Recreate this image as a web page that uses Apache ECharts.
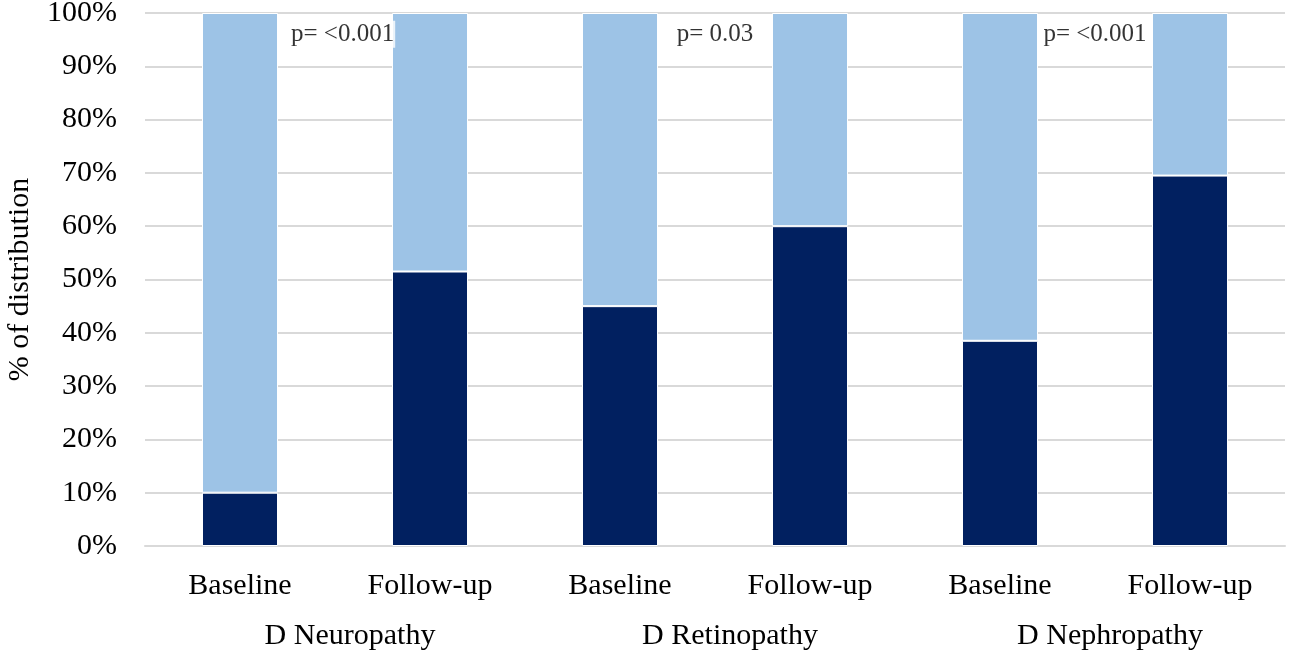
<!DOCTYPE html>
<html>
<head>
<meta charset="utf-8">
<script src="https://cdn.jsdelivr.net/npm/echarts@6/dist/echarts.min.js"></script>
<style>html,body{margin:0;padding:0;background:#fff}#c{width:1299px;height:653px}</style>
</head>
<body>
<div id="c"></div>
<script>
var categories = ['Baseline', 'Follow-up', 'Baseline', 'Follow-up', 'Baseline', 'Follow-up'];
var groups = ['D Neuropathy', 'D Retinopathy', 'D Nephropathy'];
var presentValues = [10, 51.5, 45, 60, 38.5, 69.5];
var absentValues = [90, 48.5, 55, 40, 61.5, 30.5];
var pLabels = ['p= <0.001', 'p= 0.03', 'p= <0.001'];
var pPositions = [0.54, 2.5, 4.5];
var pLevel = 96;

var FONT = '"Liberation Serif", "Times New Roman", serif';
var chart = echarts.init(document.getElementById('c'));
chart.setOption({
  animation: false,
  backgroundColor: '#fff',
  grid: { left: 145, right: 14, top: 13, bottom: 107, containLabel: false, outerBoundsMode: 'none' },
  xAxis: [
    {
      type: 'category', data: categories,
      axisLine: { show: true, lineStyle: { color: '#d9d9d9', width: 2 } },
      axisTick: { show: false },
      axisLabel: { color: '#000', fontFamily: FONT, fontSize: 30, margin: 25 }
    },
    {
      type: 'category', data: groups, position: 'bottom', offset: 55,
      axisLine: { show: false }, axisTick: { show: false },
      axisLabel: { color: '#000', fontFamily: FONT, fontSize: 30, margin: 20, padding: [0, 0, 0, 30] }
    },
    {
      type: 'value', min: -0.5, max: 5.5, show: false
    }
  ],
  yAxis: {
    type: 'value', min: 0, max: 100, interval: 10,
    name: '% of distribution', nameLocation: 'middle', nameRotate: 90, nameGap: 110,
    nameTextStyle: { color: '#000', fontFamily: FONT, fontSize: 30 },
    axisLine: { show: false }, axisTick: { show: false },
    axisLabel: { color: '#000', fontFamily: FONT, fontSize: 30, margin: 28, formatter: '{value}%' },
    splitLine: { lineStyle: { color: '#d9d9d9', width: 2 } }
  },
  series: [
    {
      type: 'bar', stack: 'a', data: presentValues, barWidth: '40%',
      itemStyle: { color: '#012060', borderColor: '#fff', borderWidth: 1 }
    },
    {
      type: 'bar', stack: 'a', data: absentValues, barWidth: '40%',
      itemStyle: { color: '#9dc3e6', borderColor: '#fff', borderWidth: 1 }
    },
    {
      type: 'scatter', xAxisIndex: 2, yAxisIndex: 0, symbolSize: 0,
      data: pPositions.map(function (x, i) { return { value: [x, pLevel], name: pLabels[i] }; }),
      label: {
        show: true, position: 'inside', formatter: '{b}', color: '#000',
        fontFamily: FONT, fontSize: 25, backgroundColor: '#fff', padding: [1, 1]
      },
      z: 10
    }
  ]
});
</script>
</body>
</html>
